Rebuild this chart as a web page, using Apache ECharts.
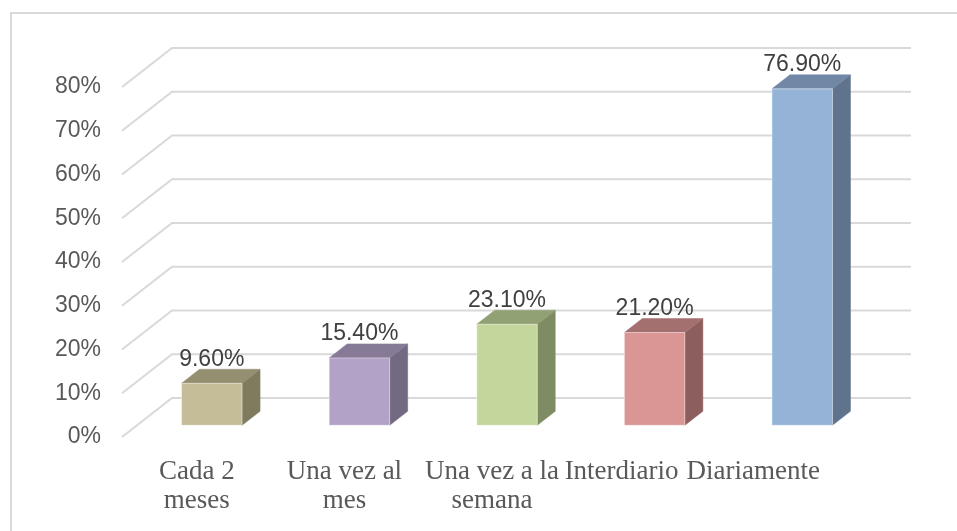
<!DOCTYPE html>
<html>
<head>
<meta charset="utf-8">
<script src="https://cdn.jsdelivr.net/npm/echarts@6/dist/echarts.min.js"></script>
<style>
  html, body { margin: 0; padding: 0; background: #fff; }
  #chart { width: 957px; height: 531px; }
</style>
</head>
<body>
<div id="chart"></div>
<script>
// chart data
const categories = ['Cada 2\nmeses', 'Una vez al\nmes', 'Una vez a la\nsemana', 'Interdiario', 'Diariamente'];
const values = [9.6, 15.4, 23.1, 21.2, 76.9];
const yTicks = [0, 10, 20, 30, 40, 50, 60, 70, 80];

// bar colours: front, top, side
const faceColors = [
  ['#C4BD97', '#948F70', '#7F7B5F'],
  ['#B3A2C7', '#867A97', '#736982'],
  ['#C3D69B', '#92A174', '#7E8B63'],
  ['#D99694', '#A4706F', '#8C5F5E'],
  ['#95B3D7', '#7088A6', '#60738D']
];
// horizontal nudge (px, to the left) of each category label
const labelShift = [0, 0, 0, 18, 34];

// perspective depth of the floor (px) and bar placement in it
const DEPTH_X = 50, DEPTH_Y = -39;
const BAR_FRONT = 0.3, BAR_DEPTH = 0.36, BAR_WIDTH = 0.41;

const chart = echarts.init(document.getElementById('chart'));

function renderWalls(params, api) {
  const cs = params.coordSys;
  const y = api.coord([0, api.value(1)])[1];
  const x0 = cs.x - 1;
  return {
    type: 'polyline',
    shape: {
      points: [[x0, y], [x0 + DEPTH_X, y + DEPTH_Y], [cs.x + cs.width + DEPTH_X, y + DEPTH_Y]]
    },
    style: { stroke: '#D9D9D9', lineWidth: 2, fill: null },
    silent: true
  };
}

function renderBar(params, api) {
  const i = api.value(0);
  const v = api.value(1);
  const base = api.coord([i, 0]);
  const top = api.coord([i, v]);
  const band = api.size([1, 0])[0];
  const w = band * BAR_WIDTH;
  const ox = BAR_FRONT * DEPTH_X, oy = BAR_FRONT * DEPTH_Y;
  const dx = BAR_DEPTH * DEPTH_X, dy = BAR_DEPTH * DEPTH_Y;
  const xL = base[0] - w / 2 + ox, xR = xL + w;
  const yB = base[1] + oy, yT = top[1] + oy;
  const c = faceColors[params.dataIndex];
  return {
    type: 'group',
    children: [
      {
        type: 'polygon',
        shape: { points: [[xR, yT], [xR + dx, yT + dy], [xR + dx, yB + dy], [xR, yB]] },
        style: { fill: c[2], stroke: c[2], lineWidth: 0.5 }
      },
      {
        type: 'polygon',
        shape: { points: [[xL, yT], [xR, yT], [xR + dx, yT + dy], [xL + dx, yT + dy]] },
        style: { fill: c[1], stroke: c[1], lineWidth: 0.5 }
      },
      {
        type: 'rect',
        shape: { x: xL, y: yT, width: w, height: yB - yT },
        style: { fill: c[0], stroke: 'rgba(255,255,255,0.45)', lineWidth: 1 }
      },
      {
        type: 'text',
        style: {
          text: v.toFixed(2) + '%',
          x: xL + w / 2,
          y: yT - 24,
          align: 'center',
          verticalAlign: 'middle',
          fill: '#404040',
          font: '23px "Liberation Sans", Arial, sans-serif'
        }
      }
    ]
  };
}

chart.setOption({
  animation: false,
  backgroundColor: '#fff',
  graphic: [{
    type: 'polyline',
    shape: { points: [[11, 531], [11, 13], [957, 13]] },
    style: { stroke: '#D9D9D9', lineWidth: 2, fill: null },
    silent: true
  }],
  grid: { left: 123, width: 738, top: 87, height: 350 },
  xAxis: {
    type: 'category',
    data: categories.map((name, i) => ({
      value: name,
      textStyle: { padding: [0, labelShift[i] * 2, 0, 0] }
    })),
    axisLine: { show: false },
    axisTick: { show: false },
    axisLabel: {
      interval: 0,
      margin: 20,
      color: '#595959',
      fontFamily: '"Liberation Serif", "Times New Roman", serif',
      fontSize: 27,
      lineHeight: 29
    }
  },
  yAxis: {
    type: 'value',
    min: 0,
    max: 80,
    interval: 10,
    axisLine: { show: false },
    axisTick: { show: false },
    splitLine: { show: false },
    axisLabel: {
      margin: 22,
      formatter: '{value}%',
      color: '#595959',
      fontFamily: '"Liberation Sans", Arial, sans-serif',
      fontSize: 23,
      padding: [4, 0, 0, 0]
    }
  },
  series: [
    {
      type: 'custom',
      renderItem: renderWalls,
      data: yTicks.map(t => [0, t]),
      z: 1,
      silent: true
    },
    {
      type: 'custom',
      renderItem: renderBar,
      data: values.map((v, i) => [i, v]),
      z: 2
    }
  ]
});
</script>
</body>
</html>
